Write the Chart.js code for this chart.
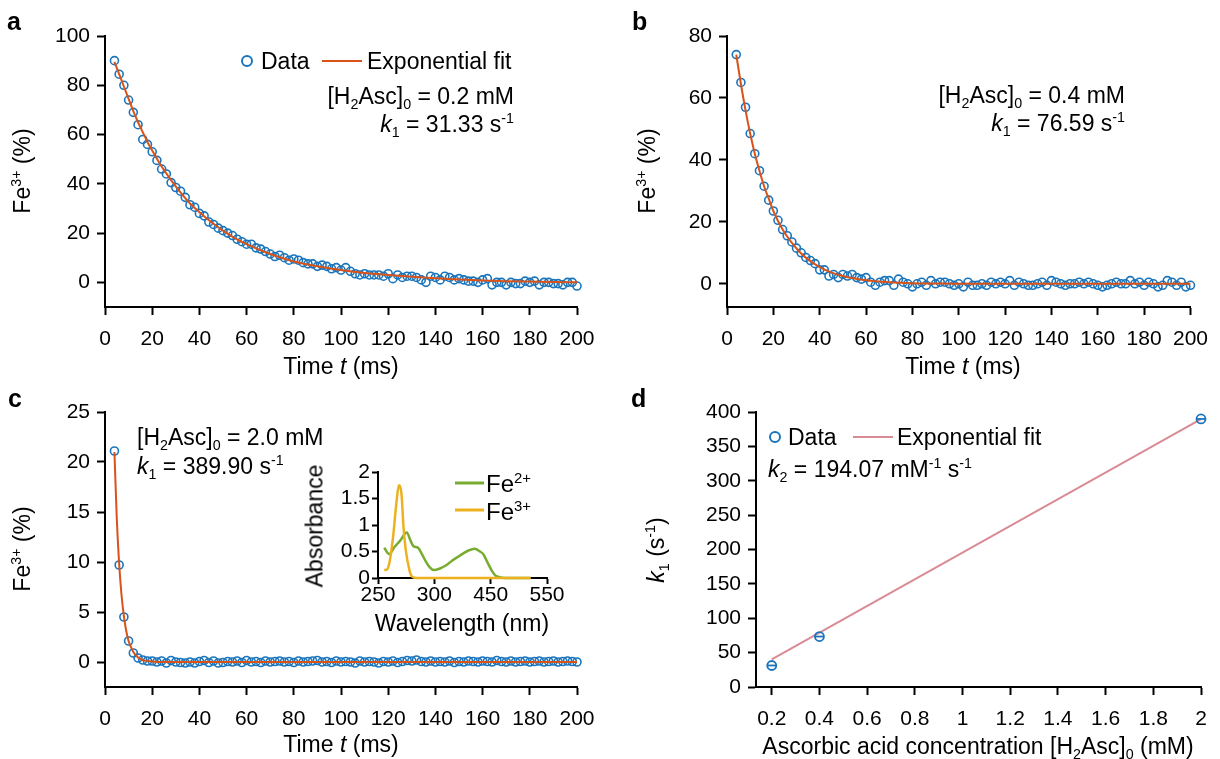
<!DOCTYPE html>
<html>
<head>
<meta charset="utf-8">
<script src="https://cdn.jsdelivr.net/npm/chart.js@4.4.1/dist/chart.umd.min.js"></script>
<style>
  html, body { margin: 0; padding: 0; background: #fff; }
  #fig { position: relative; width: 1220px; height: 759px; overflow: hidden;
         font-family: "Liberation Sans", Arial, Helvetica, sans-serif; color: #000; }
  #fig canvas { position: absolute; }
  .txt { position: absolute; font-size: 23px; line-height: 1; white-space: nowrap; }
  .mid  { transform: translate(-50%, -50%); }
  .vmid { transform: translateY(-50%); }
  .rot  { transform: translate(-50%, -50%) rotate(-90deg); }
  .panel { font-weight: bold; font-size: 25px; }
  .sup { font-size: 0.62em; position: relative; top: -0.62em; }
  .sub { font-size: 0.62em; position: relative; top: 0.35em; }
  .mk { position: absolute; width: 8px; height: 8px; border: 2px solid #1a75bc; border-radius: 50%; transform: translate(-50%, -50%); }
  .ln { position: absolute; height: 2px; transform: translateY(-50%); }
</style>
</head>
<body>
<div id="fig">
  <canvas id="chartA" width="610" height="380" style="left:0;top:0"></canvas>
  <canvas id="chartB" width="610" height="380" style="left:610px;top:0"></canvas>
  <canvas id="chartC" width="610" height="379" style="left:0;top:380px"></canvas>
  <canvas id="chartD" width="610" height="379" style="left:610px;top:380px"></canvas>
  <canvas id="chartInset" width="300" height="220" style="left:280px;top:440px"></canvas>

  <!-- panel letters -->
  <div class="txt panel" style="left:7px;top:9px">a</div>
  <div class="txt panel" style="left:632px;top:9px">b</div>
  <div class="txt panel" style="left:8px;top:386px">c</div>
  <div class="txt panel" style="left:631px;top:386px">d</div>

  <!-- panel a -->
  <div class="mk" style="left:247px;top:61px"></div>
  <div class="txt vmid" style="left:261px;top:61px">Data</div>
  <div class="ln" style="left:322px;top:61px;width:40px;background:#d95319"></div>
  <div class="txt vmid" style="left:367px;top:61px">Exponential fit</div>
  <div class="txt vmid" style="right:706px;top:96px">[H<span class="sub">2</span>Asc]<span class="sub">0</span> = 0.2 mM</div>
  <div class="txt vmid" style="right:706px;top:124px"><i>k</i><span class="sub">1</span> = 31.33 s<span class="sup">-1</span></div>
  <div class="txt mid" style="left:341px;top:366px">Time <i>t</i> (ms)</div>
  <div class="txt rot" style="left:22px;top:171px">Fe<span class="sup">3+</span> (%)</div>

  <!-- panel b -->
  <div class="txt vmid" style="right:95px;top:95px">[H<span class="sub">2</span>Asc]<span class="sub">0</span> = 0.4 mM</div>
  <div class="txt vmid" style="right:95px;top:123px"><i>k</i><span class="sub">1</span> = 76.59 s<span class="sup">-1</span></div>
  <div class="txt mid" style="left:963px;top:366px">Time <i>t</i> (ms)</div>
  <div class="txt rot" style="left:647px;top:171px">Fe<span class="sup">3+</span> (%)</div>

  <!-- panel c -->
  <div class="txt vmid" style="left:137px;top:437px">[H<span class="sub">2</span>Asc]<span class="sub">0</span> = 2.0 mM</div>
  <div class="txt vmid" style="left:137px;top:466px"><i>k</i><span class="sub">1</span> = 389.90 s<span class="sup">-1</span></div>
  <div class="txt mid" style="left:341px;top:744px">Time <i>t</i> (ms)</div>
  <div class="txt rot" style="left:22px;top:549px">Fe<span class="sup">3+</span> (%)</div>

  <!-- inset -->
  <div class="ln" style="left:455px;top:483px;width:29px;height:3px;background:#77ac30"></div>
  <div class="txt vmid" style="left:486px;top:484px;font-size:24px">Fe<span class="sup">2+</span></div>
  <div class="ln" style="left:455px;top:510px;width:29px;height:3px;background:#edb120"></div>
  <div class="txt vmid" style="left:486px;top:512px;font-size:24px">Fe<span class="sup">3+</span></div>
  <div class="txt mid" style="left:462px;top:623px">Wavelength (nm)</div>
  <div class="txt rot" style="left:315px;top:526px">Absorbance</div>

  <!-- panel d -->
  <div class="mk" style="left:775px;top:437px"></div>
  <div class="txt vmid" style="left:788px;top:437px">Data</div>
  <div class="ln" style="left:853px;top:437px;width:40px;background:#d98b95"></div>
  <div class="txt vmid" style="left:897px;top:437px">Exponential fit</div>
  <div class="txt vmid" style="left:768px;top:469px"><i>k</i><span class="sub">2</span> = 194.07 mM<span class="sup">-1</span> s<span class="sup">-1</span></div>
  <div class="txt mid" style="left:978px;top:746px">Ascorbic acid concentration [H<span class="sub">2</span>Asc]<span class="sub">0</span> (mM)</div>
  <div class="txt rot" style="left:656px;top:550px"><i>k</i><span class="sub">1</span> (s<span class="sup">-1</span>)</div>
</div>

<script>
// sampling times shared by panels a-c (ms)
const timeMs = [4,6,8,10,12,14,16,18,20,22,24,26,28,30,32,34,36,38,40,42,44,46,48,50,52,54,56,58,60,62,64,66,68,70,72,74,76,78,80,82,84,86,88,90,92,94,96,98,100,102,104,106,108,110,112,114,116,118,120,122,124,126,128,130,132,134,136,138,140,142,144,146,148,150,152,154,156,158,160,162,164,166,168,170,172,174,176,178,180,182,184,186,188,190,192,194,196,198,200];

const fe3A = [90,84.5,80,74,69,64,58,56,53,
  49.5,46,44,40.5,38.5,37,34.5,31.5,30.5,28,
  27,24.5,23.5,22,21,20,19,17.5,16.5,15.5,
  15.5,14,13.5,12.5,11.5,10.5,11,10,9,9.5,
  9,8,7.5,7.5,6.5,7,6.5,5.5,6,5,
  6,4.5,3.5,3,3.5,3,3,3,2.5,3.5,
  1.5,3,2,2.5,2.5,2,1,0,2.5,2,
  1,2.5,2,1,1.5,1,0.5,0.5,0,1,
  1.5,-1,0,0,-1,0,-0.5,-0.5,0.5,0,
  0.5,-1,0,0,-0.5,-0.5,-1,0,0,-1.5];

const fe3B = [74,65,57,48.5,42,36.5,31.5,27,23.5,
  20.5,17.5,15.5,13.5,11.5,10,8.5,7.5,6.5,4.5,
  4.5,2.5,3,2,3,2.5,3,2,1.5,2,
  0.5,-0.5,0.5,1,1,-0.5,1.5,0.5,0,-1,
  0,0.5,-0.5,1,0,0.5,0.5,0,-0.5,0,
  -1,0.5,-0.5,-0.5,0,-0.5,0.5,0,0.5,0,
  1,-0.5,0.5,0,-0.5,-0.5,0,0.5,-0.5,1,
  0.5,0,-0.5,0,0,0.5,0,0.5,0,-0.5,
  -1,-0.5,0,0.5,0,0,1,0,0.5,-0.5,
  0.5,0,-1,-0.5,1,0.5,-0.5,0.5,-1,-0.5];

const fe3C = [21.1,9.7,4.5,2.1,0.9,0.4,0.2,0.1,0.1,
  0,0.1,-0.1,0.15,0,-0.05,-0.1,0,-0.1,0.05,
  0.15,-0.05,0.1,-0.1,-0.05,0.05,0,0.1,-0.05,0.15,
  0,0.05,-0.05,0.1,0,0.05,0.1,0,0.05,-0.05,
  0.1,0,0.05,0.1,0.15,0,0.05,-0.05,0.1,0,
  0.05,0,-0.1,0.1,0,0.05,0,-0.1,0.05,0,
  0.1,-0.05,0.05,0.15,0.1,0.2,0.05,0,0.1,0,
  0.05,0,0.1,-0.05,0.05,0,0.1,0.05,0,0.1,
  0.05,0,0.15,0.05,0,0.1,0,0.05,0.1,0,
  0.05,0.1,0,0.05,0.1,0,0.05,0.1,0.05,0];

// exponential fit curves
const fitTimeA = [4,6,8,10,12,14,16,18,20,24,28,32,36,40,45,50,55,60,70,80,90,100,110,120,130,140,150,160,170,180,190,200];
const fitA     = [89.5,84.5,79.5,74.5,69.5,65,61,57,53.5,47,41.5,36.5,32,28.5,24.5,21,18,15.5,11.5,8.5,6.5,5,3.8,3,2.3,1.7,1.2,0.8,0.5,0.3,0.1,0];
const fitTimeB = [4,6,8,10,12,14,16,18,20,24,28,32,36,40,45,50,55,60,70,80,90,100,200];
const fitB     = [74,64.5,56,48.5,42,36.5,31.5,27.5,23.5,17.5,13.2,9.8,7.3,5.4,3.7,2.5,1.7,1.1,0.5,0.2,0.1,0,0];
const fitTimeC = [4,5,6,7,8,9,10,11,12,14,16,18,20,25,200];
const fitC     = [21,14.3,9.8,6.7,4.6,3.1,2.1,1.5,1.0,0.45,0.2,0.1,0.05,0,0];

// inset spectra: x is the position along the (non-linear) wavelength axis, tick i = label i
const insetTickPos    = [0, 1, 2, 3];
const insetTickLabels = ["250", "300", "450", "550"];
const fe2Pos = [0.11,0.20,0.29,0.39,0.51,0.58,0.63,0.71,0.78,0.84,0.92,0.99,1.10,1.21,1.32,1.45,1.57,1.72,1.81,1.87,1.95,2.02,2.08,2.14,2.26,2.71];
const fe2Abs = [0.57,0.45,0.58,0.70,0.86,0.70,0.60,0.57,0.45,0.33,0.20,0.15,0.18,0.24,0.33,0.42,0.50,0.55,0.50,0.45,0.28,0.14,0.05,0.02,0,0];
const fe3Pos = [0.11,0.16,0.21,0.27,0.33,0.37,0.42,0.45,0.49,0.56,0.60,0.69,2.71];
const fe3Abs = [0.15,0.16,0.33,0.80,1.45,1.75,1.55,1.0,0.55,0.14,0.03,0,0];

// panel d
const concMM = [0.2, 0.4, 2.0];
const k1Data = [31.3, 73.4, 389.9];
const fitConc = [0.2, 2.0];
const fitK1   = [40.2, 389.5];

// tick values
const timeTicks = [0,20,40,60,80,100,120,140,160,180,200];
const yTicksA = [0,20,40,60,80,100];
const yTicksB = [0,20,40,60,80];
const yTicksC = [0,5,10,15,20,25];
const yTicksInset = [0,0.5,1,1.5,2];
const xTicksD = [0.2,0.4,0.6,0.8,1,1.2,1.4,1.6,1.8,2];
const yTicksD = [0,50,100,150,200,250,300,350,400];

const BLUE = "#1a75bc", ORANGE = "#d95319", GREEN = "#77ac30", YELLOW = "#edb120", PINK = "#d98b95";

Chart.defaults.font.family = '"Liberation Sans", Arial, Helvetica, sans-serif';
Chart.defaults.font.size = 21;
Chart.defaults.color = "#000";

function byId(id) { return document.getElementById(id); }
function pts(xs, ys) { return xs.map((x, i) => ({ x, y: ys[i] })); }

function circles(xs, ys, r, w) {
  return { data: pts(xs, ys), showLine: false, pointStyle: "circle", pointRadius: r,
           borderColor: BLUE, backgroundColor: "rgba(0,0,0,0)", borderWidth: w, clip: false };
}
function curve(xs, ys, color, w) {
  return { data: pts(xs, ys), showLine: true, borderColor: color, borderWidth: w, pointRadius: 0,
           cubicInterpolationMode: "monotone", fill: false, clip: false };
}

function axis({ min, max, ticks, labels, size, horizontal, tickLen = 8, pad = 7, lh = 1.2 }) {
  return {
    type: "linear", min, max,
    border: { display: true, color: "#000", width: 2 },
    grid: { drawOnChartArea: false, drawTicks: true, tickLength: tickLen, tickWidth: 2, tickColor: "#000" },
    ticks: { padding: pad, color: "#000", autoSkip: false, maxRotation: 0, font: { size: 21, lineHeight: lh },
             callback: (v, i) => labels ? labels[i] : String(v) },
    afterBuildTicks: s => { s.ticks = ticks.map(v => ({ value: v })); },
    afterFit: s => { if (horizontal) s.height = size; else s.width = size; }
  };
}

function makeChart(id, datasets, x, y, padding) {
  return new Chart(byId(id), {
    type: "scatter",
    data: { datasets },
    options: {
      responsive: false, animation: false, devicePixelRatio: 1,
      layout: { padding },
      plugins: { legend: { display: false }, tooltip: { enabled: false } },
      scales: { x, y }
    }
  });
}

makeChart("chartA",
  [curve(fitTimeA, fitA, ORANGE, 2), circles(timeMs, fe3A, 4, 1.6)],
  axis({ min: 0, max: 200, ticks: timeTicks, size: 73, horizontal: true, pad: 12 }),
  axis({ min: -10, max: 100, ticks: yTicksA, size: 105 }),
  { top: 36, right: 33, left: 0, bottom: 0 });

makeChart("chartB",
  [curve(fitTimeB, fitB, ORANGE, 2), circles(timeMs, fe3B, 4, 1.6)],
  axis({ min: 0, max: 200, ticks: timeTicks, size: 73, horizontal: true, pad: 12 }),
  axis({ min: -7.5, max: 80, ticks: yTicksB, size: 117 }),
  { top: 36, right: 21, left: 0, bottom: 0 });

makeChart("chartC",
  [curve(fitTimeC, fitC, ORANGE, 2), circles(timeMs, fe3C, 4, 1.6)],
  axis({ min: 0, max: 200, ticks: timeTicks, size: 72, horizontal: true, pad: 12 }),
  axis({ min: -2.5, max: 25, ticks: yTicksC, size: 105 }),
  { top: 32, right: 33, left: 0, bottom: 0 });

makeChart("chartInset",
  [curve(fe3Pos, fe3Abs, YELLOW, 2.5), curve(fe2Pos, fe2Abs, GREEN, 2.5)],
  axis({ min: 0, max: 3, ticks: insetTickPos, labels: insetTickLabels, size: 82, horizontal: true, tickLen: 6, pad: 1, lh: 1 }),
  axis({ min: 0, max: 2, ticks: yTicksInset, size: 98, tickLen: 6, pad: 2 }),
  { top: 32, right: 33, left: 0, bottom: 0 });

const marksD = circles(concMM, k1Data, 4.5, 1.8);
const barsD = Object.assign(circles(concMM, k1Data, 4.5, 1.8), { pointStyle: "line" });
makeChart("chartD",
  [marksD, barsD, curve(fitConc, fitK1, PINK, 2)],
  axis({ min: 0.134, max: 2, ticks: xTicksD, size: 72, horizontal: true, pad: 12 }),
  axis({ min: 0, max: 400, ticks: yTicksD, size: 146 }),
  { top: 32, right: 19, left: 0, bottom: 0 });
</script>
</body>
</html>
